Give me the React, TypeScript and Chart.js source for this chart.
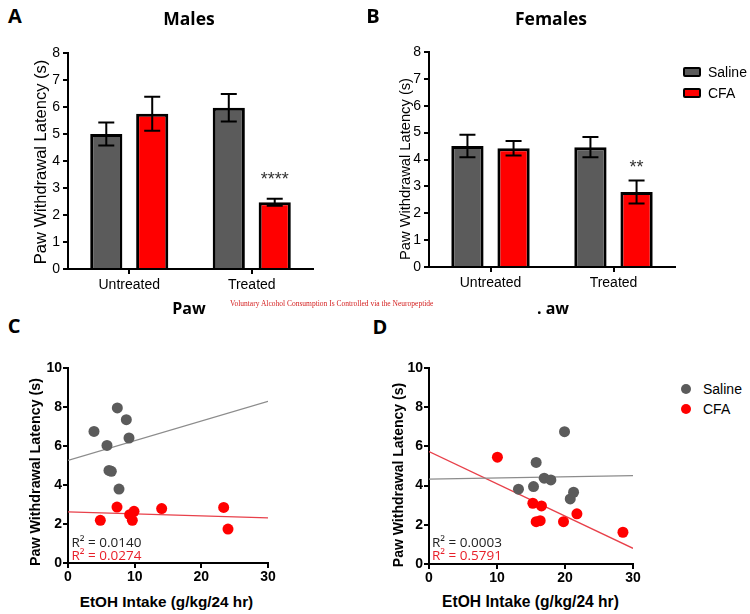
import React, { useEffect, useRef } from 'react';
import { Chart, registerables } from 'chart.js';

Chart.register(...registerables);

// ---------- Data ----------
const barCategories = ['Untreated', 'Treated'];

const malesSaline = [5.0, 5.97];
const malesSalineErr = [0.43, 0.51];
const malesCFA = [5.75, 2.47];
const malesCFAErr = [0.63, 0.13];
const malesStars = ['', '****'];
const malesStarLevel = [0, 3.5];

const femalesSaline = [4.5, 4.46];
const femalesSalineErr = [0.42, 0.38];
const femalesCFA = [4.42, 2.79];
const femalesCFAErr = [0.27, 0.43];
const femalesStars = ['', '**'];
const femalesStarLevel = [0, 3.88];

const fitX = [0, 30];

// Panel C (males)
const cSalineX = [3.9, 5.85, 7.4, 8.75, 9.15, 6.15, 6.5, 7.65];
const cSalineY = [6.75, 6.03, 7.95, 7.35, 6.41, 4.75, 4.7, 3.79];
const cCFAX = [4.85, 7.35, 9.25, 9.9, 9.65, 14.05, 23.35, 24.0];
const cCFAY = [2.19, 2.87, 2.48, 2.65, 2.19, 2.79, 2.85, 1.74];
const cSalineFit = [5.26, 8.29];
const cCFAFit = [2.62, 2.31];

// Panel D (females)
const dSalineX = [13.16, 15.37, 15.76, 16.94, 17.92, 19.93, 20.77, 21.26];
const dSalineY = [3.82, 3.95, 5.18, 4.38, 4.29, 6.75, 3.32, 3.66];
const dCFAX = [10.06, 15.27, 16.54, 15.76, 16.35, 19.78, 21.75, 28.52];
const dCFAY = [5.45, 3.1, 2.96, 2.16, 2.21, 2.16, 2.56, 1.62];
const dSalineFit = [4.33, 4.51];
const dCFAFit = [5.74, 0.8];

const barYTicks = { min: 0, max: 8, step: 1 };
const scatterYTicks = { min: 0, max: 10, step: 2 };
const scatterXTicks = { min: 0, max: 30, step: 10 };

// ---------- Styles ----------
const SALINE = '#5b5b5b';
const CFA = '#ff0000';
const AX = '"Liberation Sans", Arial, sans-serif';
const TITLE = '"Open Sans", "Liberation Sans", sans-serif';

const errorBarPlugin = {
  id: 'errorBars',
  afterDatasetsDraw(chart: any) {
    const ctx = chart.ctx;
    const y = chart.scales.y;
    chart.data.datasets.forEach((ds: any, i: number) => {
      if (!ds.errors) return;
      const meta = chart.getDatasetMeta(i);
      meta.data.forEach((el: any, j: number) => {
        const v = ds.data[j];
        const e = ds.errors[j];
        const x = el.x;
        const top = y.getPixelForValue(v + e);
        const bot = y.getPixelForValue(v - e);
        ctx.save();
        ctx.strokeStyle = '#000';
        ctx.lineWidth = 2;
        ctx.beginPath();
        ctx.moveTo(x, top);
        ctx.lineTo(x, bot);
        ctx.moveTo(x - 8, top);
        ctx.lineTo(x + 8, top);
        ctx.moveTo(x - 8, bot);
        ctx.lineTo(x + 8, bot);
        ctx.stroke();
        const s = ds.stars ? ds.stars[j] : '';
        if (s) {
          ctx.fillStyle = '#333';
          ctx.font = `18px ${AX}`;
          ctx.textAlign = 'center';
          ctx.textBaseline = 'alphabetic';
          ctx.fillText(s, x, y.getPixelForValue(ds.starLevels[j]) + 10);
        }
        ctx.restore();
      });
    });
  },
};

function axisCommon(bold: boolean, size: number, pad: number) {
  return {
    grid: { drawOnChartArea: false, color: '#000', lineWidth: 2, tickLength: 5, offset: false },
    border: { color: '#000', width: 2 },
    ticks: { color: '#000', padding: pad, font: { family: AX, size, weight: bold ? 'bold' : 'normal' } },
  };
}

function barConfig(
  saline: number[], salineErr: number[], cfa: number[], cfaErr: number[],
  stars: string[], starLevels: number[],
  yw: number, padTop: number, padRight: number, xh: number
): any {
  const common = {
    borderColor: '#000',
    borderWidth: 3,
    borderSkipped: 'start',
    categoryPercentage: 0.75,
    barPercentage: 0.7,
  };
  const xA = axisCommon(false, 14, 3);
  const yA = axisCommon(false, 14, 3);
  return {
    type: 'bar',
    data: {
      labels: barCategories,
      datasets: [
        { label: 'Saline', data: saline, errors: salineErr, backgroundColor: SALINE, ...common },
        { label: 'CFA', data: cfa, errors: cfaErr, stars, starLevels, backgroundColor: CFA, ...common },
      ],
    },
    options: {
      responsive: false,
      animation: false,
      devicePixelRatio: 1,
      layout: { padding: { top: padTop, right: padRight, left: 0, bottom: 0 } },
      plugins: { legend: { display: false }, tooltip: { enabled: false } },
      scales: {
        x: { ...xA, afterFit: (s: any) => { s.height = xh; } },
        y: {
          ...yA,
          min: barYTicks.min,
          max: barYTicks.max,
          ticks: { ...yA.ticks, stepSize: barYTicks.step },
          afterFit: (s: any) => { s.width = yw; },
        },
      },
    },
    plugins: [errorBarPlugin],
  };
}

function pts(xs: number[], ys: number[]) {
  return xs.map((x, i) => ({ x, y: ys[i] }));
}

function scatterConfig(
  sx: number[], sy: number[], cx: number[], cy: number[], sFit: number[], cFit: number[],
  yw: number, padTop: number, padRight: number, xh: number
): any {
  const xA = axisCommon(true, 14, 1);
  const yA = axisCommon(true, 14, 1);
  return {
    type: 'scatter',
    data: {
      datasets: [
        { label: 'Saline', data: pts(sx, sy), backgroundColor: SALINE, pointRadius: 5.5, borderWidth: 0 },
        { label: 'CFA', data: pts(cx, cy), backgroundColor: CFA, pointRadius: 5.5, borderWidth: 0 },
        { label: 'Saline fit', data: pts(fitX, sFit), showLine: true, borderColor: '#8c8c8c', borderWidth: 1.3, pointRadius: 0 },
        { label: 'CFA fit', data: pts(fitX, cFit), showLine: true, borderColor: '#e8404a', borderWidth: 1.3, pointRadius: 0 },
      ],
    },
    options: {
      responsive: false,
      animation: false,
      devicePixelRatio: 1,
      layout: { padding: { top: padTop, right: padRight, left: 0, bottom: 0 } },
      plugins: { legend: { display: false }, tooltip: { enabled: false } },
      scales: {
        x: {
          ...xA,
          type: 'linear',
          min: scatterXTicks.min,
          max: scatterXTicks.max,
          ticks: { ...xA.ticks, stepSize: scatterXTicks.step },
          afterFit: (s: any) => { s.height = xh; },
        },
        y: {
          ...yA,
          type: 'linear',
          min: scatterYTicks.min,
          max: scatterYTicks.max,
          ticks: { ...yA.ticks, stepSize: scatterYTicks.step },
          afterFit: (s: any) => { s.width = yw; },
        },
      },
    },
  };
}

function ChartCanvas({ config, left, top, width, height }: any) {
  const ref = useRef<HTMLCanvasElement | null>(null);
  useEffect(() => {
    if (!ref.current) return;
    const chart = new Chart(ref.current, config);
    return () => chart.destroy();
  }, []);
  return (
    <canvas
      ref={ref}
      width={width}
      height={height}
      style={{ position: 'absolute', left, top, width, height }}
    />
  );
}

function T({ x, y, children, style, rotate, align }: any) {
  const tx = align === 'left' ? '0' : '-50%';
  return (
    <div
      style={{
        position: 'absolute',
        left: x,
        top: y,
        transform: `translate(${tx},-50%)${rotate ? ' rotate(-90deg)' : ''}`,
        whiteSpace: 'nowrap',
        lineHeight: 1,
        ...style,
      }}
    >
      {children}
    </div>
  );
}

export default function App() {
  const letter = { fontFamily: TITLE, fontWeight: 700, fontSize: 20, color: '#000' };
  const ptitle = { fontFamily: TITLE, fontWeight: 700, fontSize: 17.5, color: '#000' };
  const leg = { fontFamily: AX, fontSize: 14, color: '#000' };
  const r2 = { fontFamily: TITLE, fontSize: 13.5 };
  return (
    <div style={{ position: 'fixed', left: 0, top: 0, width: 750, height: 614, background: '#fff', overflow: 'hidden' }}>
      <ChartCanvas left={0} top={30} width={330} height={270}
        config={barConfig(malesSaline, malesSalineErr, malesCFA, malesCFAErr, malesStars, malesStarLevel, 68, 23, 17, 31)} />
      <ChartCanvas left={360} top={30} width={330} height={270}
        config={barConfig(femalesSaline, femalesSalineErr, femalesCFA, femalesCFAErr, femalesStars, femalesStarLevel, 69, 22, 15, 33)} />
      <ChartCanvas left={0} top={340} width={300} height={250}
        config={scatterConfig(cSalineX, cSalineY, cCFAX, cCFAY, cSalineFit, cCFAFit, 68, 28, 32, 27)} />
      <ChartCanvas left={360} top={340} width={300} height={250}
        config={scatterConfig(dSalineX, dSalineY, dCFAX, dCFAY, dSalineFit, dCFAFit, 69, 28, 27, 26)} />

      {/* Panel letters and titles */}
      <T x={15} y={16} style={letter}>A</T>
      <T x={189} y={19} style={ptitle}>Males</T>
      <T x={373} y={16} style={letter}>B</T>
      <T x={551} y={19} style={ptitle}>Females</T>
      <T x={14} y={326} style={letter}>C</T>
      <T x={380} y={326.5} style={letter}>D</T>
      <T x={189} y={308} style={{ ...ptitle, fontSize: 16 }}>Paw</T>
      <T x={553} y={308} style={{ ...ptitle, fontSize: 16 }}>. aw</T>
      <T x={230} y={304} align="left" style={{ fontFamily: '"Liberation Serif", serif', fontSize: 7.5, color: '#d42020' }}>
        Voluntary Alcohol Consumption Is Controlled via the Neuropeptide
      </T>

      {/* Axis titles */}
      <T x={40} y={161.5} rotate style={{ fontFamily: AX, fontSize: 16.5, color: '#000' }}>Paw Withdrawal Latency (s)</T>
      <T x={405} y={168.5} rotate style={{ fontFamily: AX, fontSize: 14.7, color: '#000' }}>Paw Withdrawal Latency (s)</T>
      <T x={34.5} y={472} rotate style={{ fontFamily: AX, fontWeight: 700, fontSize: 14.3, color: '#000' }}>Paw Withdrawal Latency (s)</T>
      <T x={397.5} y={475} rotate style={{ fontFamily: AX, fontWeight: 700, fontSize: 14, color: '#000' }}>Paw Withdrawal Latency (s)</T>
      <T x={166.5} y={602} style={{ fontFamily: AX, fontWeight: 700, fontSize: 15.3, color: '#000' }}>EtOH Intake (g/kg/24 hr)</T>
      <T x={530.5} y={602} style={{ fontFamily: AX, fontWeight: 700, fontSize: 15.6, color: '#000' }}>EtOH Intake (g/kg/24 hr)</T>

      {/* R² annotations */}
      <T x={71.5} y={542.5} align="left" style={{ ...r2, color: '#222' }}>R² = 0.0140</T>
      <T x={71.5} y={555.5} align="left" style={{ ...r2, color: '#e8202a' }}>R² = 0.0274</T>
      <T x={432} y={542.5} align="left" style={{ ...r2, color: '#222' }}>R² = 0.0003</T>
      <T x={432} y={555.5} align="left" style={{ ...r2, color: '#e8202a' }}>R² = 0.5791</T>

      {/* Legend B */}
      <div style={{ position: 'absolute', left: 683, top: 66.5, width: 18, height: 10, boxSizing: 'border-box', border: '2px solid #000', borderRadius: 2, background: SALINE }} />
      <T x={708} y={71.5} align="left" style={leg}>Saline</T>
      <div style={{ position: 'absolute', left: 683, top: 88, width: 18, height: 10, boxSizing: 'border-box', border: '2px solid #000', borderRadius: 2, background: CFA }} />
      <T x={708} y={93} align="left" style={leg}>CFA</T>

      {/* Legend D */}
      <div style={{ position: 'absolute', left: 681, top: 384, width: 10, height: 10, borderRadius: '50%', background: SALINE }} />
      <T x={703} y={389} align="left" style={leg}>Saline</T>
      <div style={{ position: 'absolute', left: 681, top: 404, width: 10, height: 10, borderRadius: '50%', background: CFA }} />
      <T x={703} y={409} align="left" style={leg}>CFA</T>
    </div>
  );
}
